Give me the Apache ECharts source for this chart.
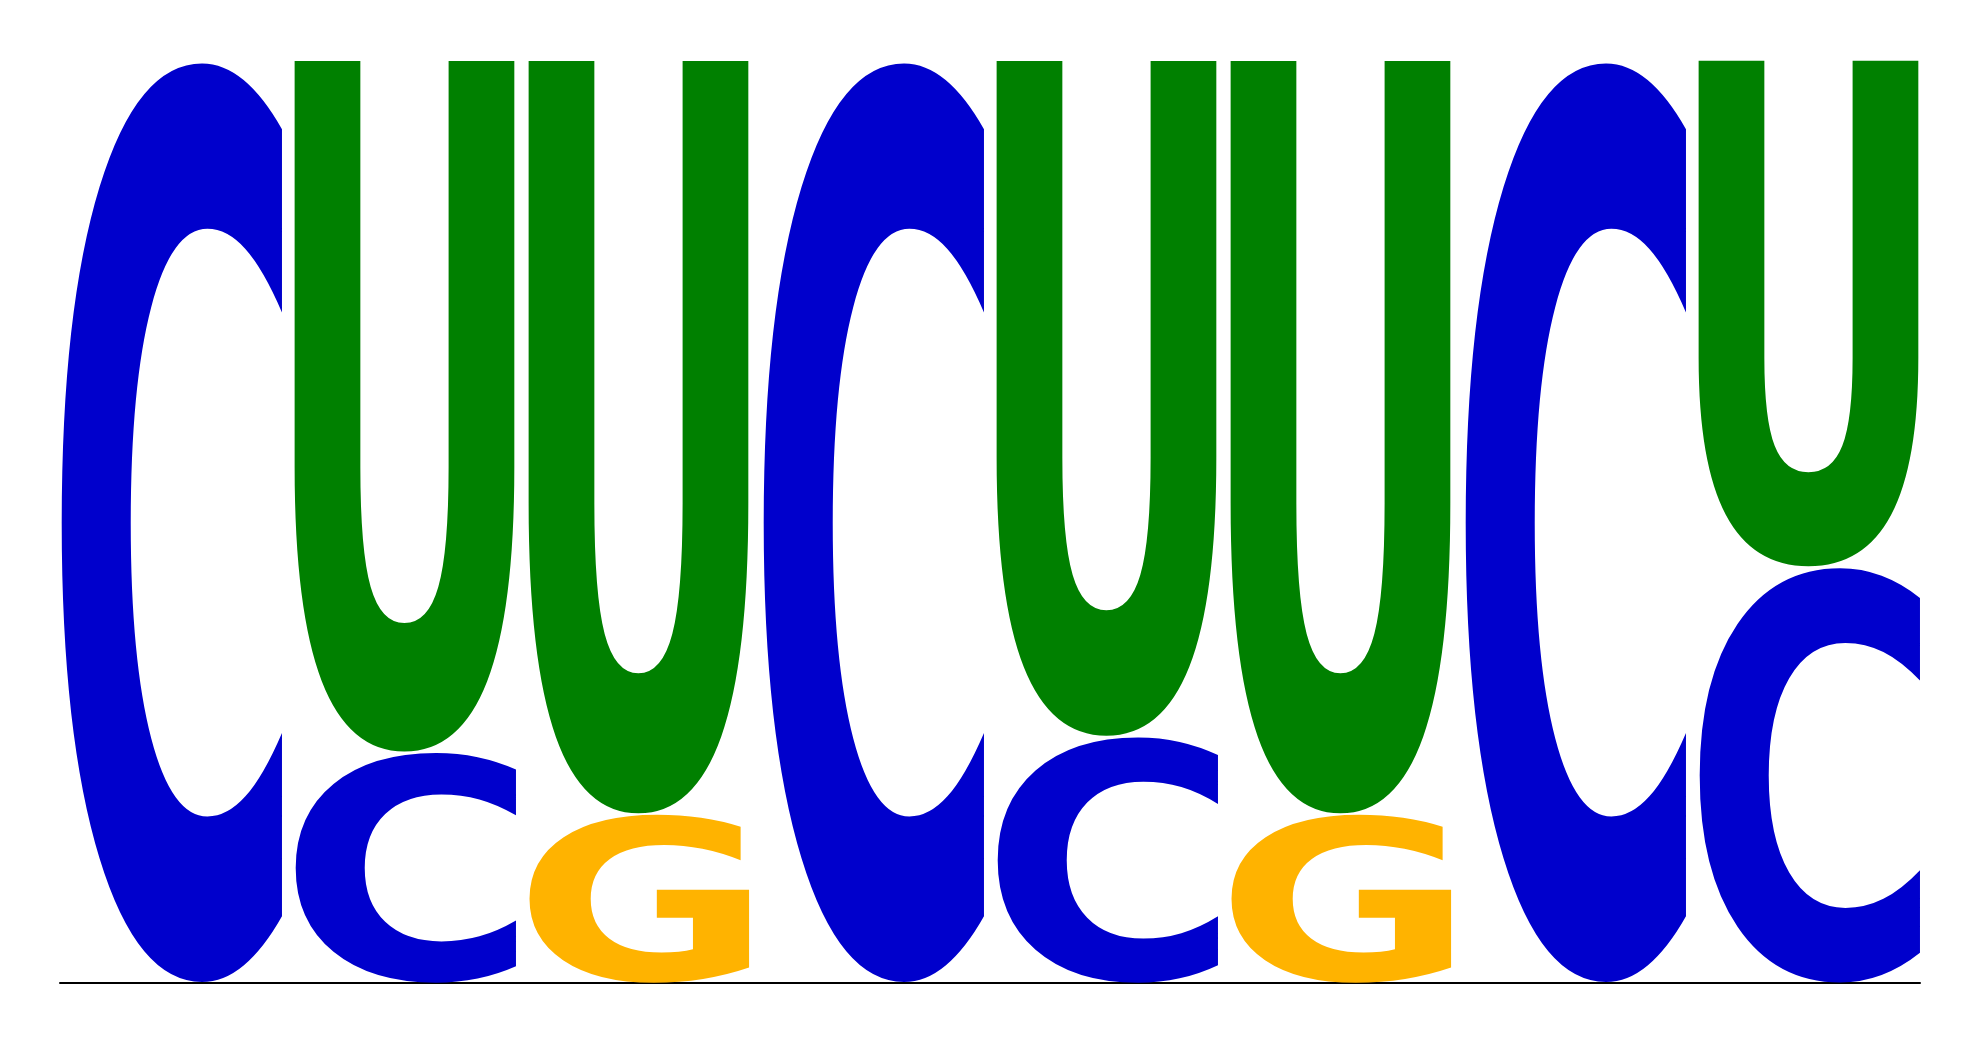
<!DOCTYPE html>
<html>
<head>
<meta charset="utf-8">
<title>Sequence logo</title>
<script src="https://cdn.jsdelivr.net/npm/echarts@6/dist/echarts.min.js"></script>
<style>
  html, body { margin: 0; padding: 0; background: #fff; }
  #main { width: 1980px; height: 1044px; }
</style>
</head>
<body>
<div id="main"></div>
<script>
// positions of the motif
var positions = [1, 2, 3, 4, 5, 6, 7, 8];

// letter probabilities per position
var probC = [1.000, 0.250, 0.000, 1.000, 0.267, 0.000, 1.000, 0.451];
var probG = [0.000, 0.000, 0.183, 0.000, 0.000, 0.183, 0.000, 0.000];
var probU = [0.000, 0.750, 0.817, 0.000, 0.733, 0.817, 0.000, 0.549];
var probA = [0.000, 0.000, 0.000, 0.000, 0.000, 0.000, 0.000, 0.000];

var letterColor = {
	"A": "#00CC00",
	"C": "#0000CC",
	"G": "#FFB300",
	"U": "#008000"
};

var FONT = 'bold 200px "DejaVu Sans"';
var halfW = 0.5 - 6 / 234;   // half width of a letter column (gap between columns)

/* ink box of a glyph, measured with the same baseline zrender uses */
var measureCtx = document.createElement('canvas').getContext('2d');
var boxCache = {};
var glyphBox = function(ch){
	if(boxCache[ch]) return boxCache[ch];
	measureCtx.font = FONT;
	measureCtx.textBaseline = 'middle';
	measureCtx.textAlign = 'left';
	var m = measureCtx.measureText(ch);
	boxCache[ch] = {
		l: m.actualBoundingBoxLeft,
		r: m.actualBoundingBoxRight,
		a: m.actualBoundingBoxAscent,
		d: m.actualBoundingBoxDescent
	};
	return boxCache[ch];
}

/* stack letters: smallest at the bottom, largest on top */
var items = [];
for(var i = 0; i < positions.length; i++){
	var col = [
		["A", probA[i]], ["C", probC[i]], ["G", probG[i]], ["U", probU[i]]
	].filter(function(d){ return d[1] > 0; });
	col.sort(function(a, b){ return a[1] - b[1]; });
	var base = 0;
	for(var j = 0; j < col.length; j++){
		items.push([positions[i], base, base + col[j][1], col[j][0]]);
		base += col[j][1];
	}
}

var renderLetter = function(params, api){
	var pos = api.value(0);
	var y0 = api.value(1);
	var y1 = api.value(2);
	var ch = items[params.dataIndex][3];
	var tl = api.coord([pos - halfW, y1]);
	var br = api.coord([pos + halfW, y0]);
	var w = br[0] - tl[0];
	var h = br[1] - tl[1];
	var b = glyphBox(ch);
	return {
		type: 'text',
		x: tl[0],
		y: tl[1],
		scaleX: w / (b.l + b.r),
		scaleY: h / (b.a + b.d),
		style: {
			text: ch,
			x: b.l,
			y: b.a,
			font: FONT,
			fill: letterColor[ch],
			align: 'left',
			verticalAlign: 'middle',
			textAlign: 'left',
			textVerticalAlign: 'middle'
		}
	};
}

var chart = echarts.init(document.getElementById('main'));
chart.setOption({
	animation: false,
	grid: { left: 60, right: 60, top: 60, bottom: 61 },
	xAxis: {
		type: 'value',
		min: 1 - halfW,
		max: positions.length + halfW,
		axisLine: { show: true, onZero: false, lineStyle: { color: '#000', width: 2 } },
		axisTick: { show: false },
		axisLabel: { show: false },
		splitLine: { show: false }
	},
	yAxis: {
		type: 'value',
		min: 0,
		max: 1,
		show: false
	},
	series: [{
		type: 'custom',
		renderItem: renderLetter,
		data: items.map(function(d){ return [d[0], d[1], d[2]]; }),
		encode: { x: 0, y: [1, 2] },
		clip: false,
		silent: true
	}]
});
</script>
</body>
</html>
